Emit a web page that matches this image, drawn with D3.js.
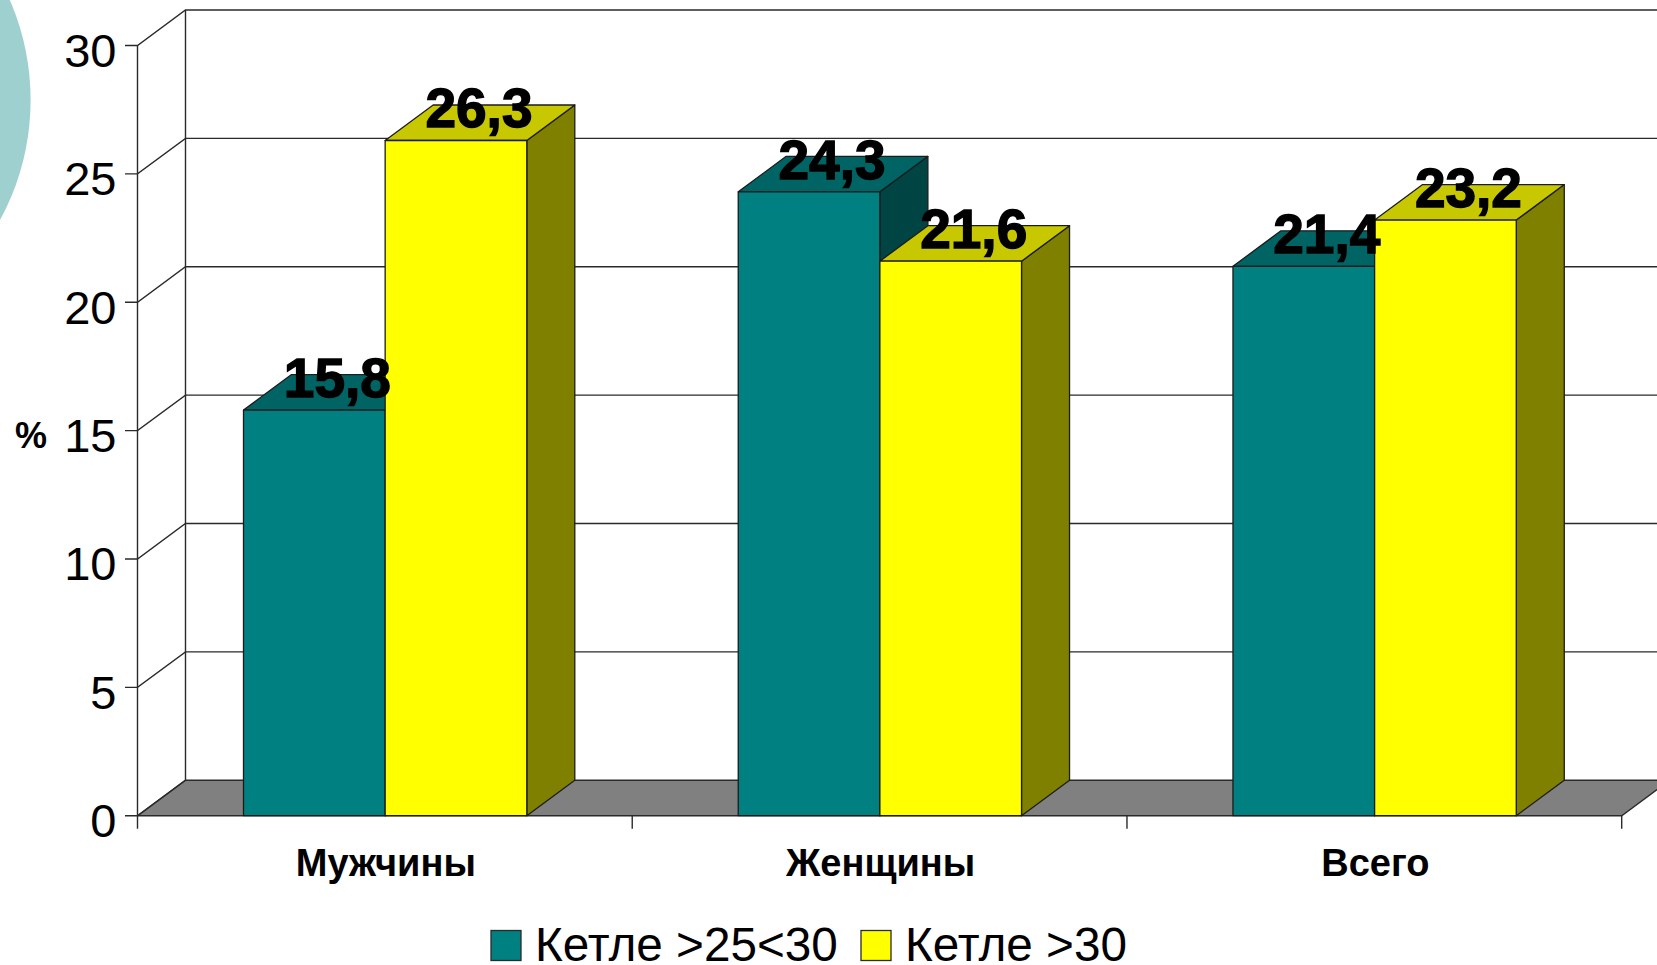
<!DOCTYPE html>
<html><head><meta charset="utf-8">
<script src="https://cdn.jsdelivr.net/npm/d3@7"></script>
<style>html,body{margin:0;padding:0;background:#fff;overflow:hidden}svg{display:block}text{font-family:"Liberation Sans",Arial,sans-serif}</style>
</head><body><svg id="c" width="1657" height="965"></svg>
<script>
const categories = ["Мужчины","Женщины","Всего"];
const seriesNames = ["Кетле >25<30","Кетле >30"];
const series1 = [15.8,24.3,21.4];
const series2 = [26.3,21.6,23.2];
const labels1 = ["15,8","24,3","21,4"];
const labels2 = ["26,3","21,6","23,2"];
const yTicks = [0,5,10,15,20,25,30];
const frontColors = ["#008080","#ffff00"];
const topColors = ["#006464","#c8c800"];
const sideColors = ["#004444","#808000"];

const W=1657,H=965, DX=48, DY=35.5, LINE="#2a2a2a";
const svg=d3.select("#c");
const y=d3.scaleLinear().domain([0,30]).range([815.7,45.5]);
const x0=d3.scaleBand().domain(categories).range([137.5,1621.7]);
const x1=d3.scaleBand().domain(d3.range(seriesNames.length)).range([106,389.3]);

// decorative circle
svg.append("circle").attr("cx",-220).attr("cy",100).attr("r",250.6).attr("fill","#9dd0cf");

// floor
const xL=x0.range()[0], xR=x0.range()[1], y0=y(0);
svg.append("path").attr("d",`M${xL},${y0}L${xL+DX},${y0-DY}L${W+2},${y0-DY}L${W+2},${y0-DY+ (W+2-xR-DX)*-DY/DX}L${xR},${y0}Z`)
  .attr("fill","#808080").attr("stroke","none");

// gridlines + walls
const g=svg.append("g").attr("fill","none").attr("stroke",LINE).attr("stroke-width",1.4);
yTicks.forEach(t=>{
  const yy=y(t);
  g.append("path").attr("d",`M${xL-12.5},${yy}L${xL},${yy}L${xL+DX},${yy-DY}L${W+2},${yy-DY}`);
});
g.append("path").attr("d",`M${xL},${y(30)}L${xL},${y0+13}`);
g.append("path").attr("d",`M${xL+DX},${y(30)-DY}L${xL+DX},${y0-DY}`);
g.append("path").attr("d",`M${xL},${y0}L${xR},${y0}L${xR+DX},${y0-DY}`);
g.append("path").attr("d",`M${xL},${y0}L${xL+DX},${y0-DY}`);
x0.domain().forEach(c=>g.append("path").attr("d",`M${x0(c)+x0.bandwidth()},${y0}L${x0(c)+x0.bandwidth()},${y0+13}`));

// bars
const barStroke="#1c1c1c";
categories.forEach((c,ci)=>{
  [series1,series2].forEach((s,si)=>{
    const L=x0(c)+x1(si), R=L+x1.bandwidth(), T=y(s[ci]), B=y0;
    const bg=svg.append("g").attr("stroke",barStroke).attr("stroke-width",1.3).attr("stroke-linejoin","round");
    bg.append("path").attr("d",`M${R},${T}L${R+DX},${T-DY}L${R+DX},${B-DY}L${R},${B}Z`).attr("fill",sideColors[si]);
    bg.append("path").attr("d",`M${L},${T}L${L+DX},${T-DY}L${R+DX},${T-DY}L${R},${T}Z`).attr("fill",topColors[si]);
    bg.append("rect").attr("x",L).attr("y",T).attr("width",R-L).attr("height",B-T).attr("fill",frontColors[si]);
  });
});

// y tick labels
svg.append("g").selectAll("text").data(yTicks).join("text")
  .attr("x",116.5).attr("y",d=>y(d)+21.5).attr("text-anchor","end")
  .attr("font-size",47).attr("fill","#000").text(d=>d);
svg.append("text").attr("x",31).attr("y",448).attr("text-anchor","middle")
  .attr("font-size",36).attr("font-weight","bold").attr("fill","#000").text("%");

// category labels
svg.append("g").selectAll("text").data(categories).join("text")
  .attr("x",d=>x0(d)+x0.bandwidth()/2+1).attr("y",875.5).attr("text-anchor","middle")
  .attr("font-size",38).attr("font-weight","bold").attr("fill","#000").text(d=>d);

// value labels
categories.forEach((c,ci)=>{
  [[series1,labels1],[series2,labels2]].forEach(([s,l],si)=>{
    svg.append("text").attr("x",x0(c)+x1(si)+x1.bandwidth()/2+23).attr("y",y(s[ci])-13)
      .attr("text-anchor","middle").attr("font-size",55).attr("font-weight","bold")
      .attr("fill","#000").attr("stroke","#000").attr("stroke-width",1.4).text(l[ci]);
  });
});

// legend
const legendX=[491,861], legendTextX=[535,905];
seriesNames.forEach((n,i)=>{
  svg.append("rect").attr("x",legendX[i]).attr("y",930.5).attr("width",30).attr("height",30)
    .attr("fill",frontColors[i]).attr("stroke",LINE).attr("stroke-width",1.3);
  svg.append("text").attr("x",legendTextX[i]).attr("y",960.5).attr("font-size",47.7).attr("fill","#000").text(n);
});
</script></body></html>
